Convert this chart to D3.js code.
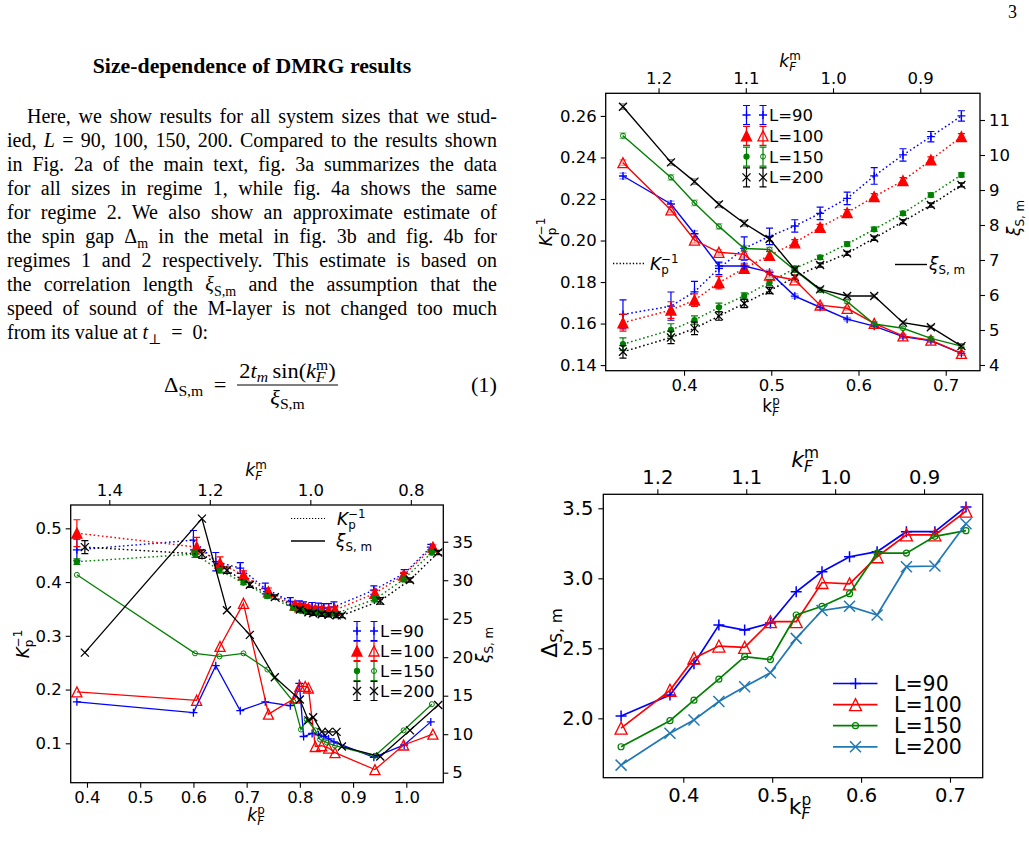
<!DOCTYPE html>
<html><head><meta charset="utf-8">
<script src="https://cdn.jsdelivr.net/npm/d3@7/dist/d3.min.js"></script>
<style>
html,body{margin:0;padding:0;background:#fff;}
svg{display:block;}
</style></head><body>
<svg id="page" width="1029" height="845" xmlns="http://www.w3.org/2000/svg"></svg>
<script>
// ================= DATA =================
const seriesNames = ["L=90", "L=100", "L=150", "L=200"];

// --- Fig 3a (top right): k_F^p values, K_p^{-1} (dotted) and xi_S,m (solid)
const kpA = [0.330,0.385,0.412,0.440,0.469,0.498,0.527,0.556,0.587,0.618,0.651,0.683,0.718];
const KA_90  = [0.1644,0.1684,0.1753,0.1866,0.1962,0.2020,0.2070,0.2131,0.2203,0.2311,0.2412,0.2500,0.2600];
const KA_100 = [0.1604,0.1665,0.1713,0.1797,0.1866,0.1928,0.1989,0.2063,0.2134,0.2211,0.2288,0.2388,0.2500];
const KA_150 = [0.1501,0.1569,0.1617,0.1678,0.1733,0.1798,0.1866,0.1919,0.1983,0.2054,0.2131,0.2219,0.2316];
const KA_200 = [0.1464,0.1533,0.1577,0.1636,0.1697,0.1759,0.1823,0.1882,0.1938,0.2011,0.2091,0.2171,0.2268];
const KA_90e  = [0.0070,0.0068,0.0050,0.0030,0.0056,0.0040,0.0030,0.0030,0.0030,0.0040,0.0030,0.0025,0.0025];
const KA_100e = [0.0040,0.0040,0.0030,0.0030,0.0020,0.0020,0.0015,0.0015,0.0015,0.0015,0.0015,0.0015,0.0015];
const KA_150e = [0.0030,0.0030,0.0020,0.0020,0.0015,0.0015,0.0010,0.0010,0.0010,0.0010,0.0010,0.0010,0.0010];
const KA_200e = [0.0030,0.0030,0.0030,0.0020,0.0020,0.0015,0.0010,0.0010,0.0010,0.0010,0.0010,0.0010,0.0010];
const XA_90  = [9.40,8.60,7.75,6.83,6.83,6.65,5.97,5.65,5.31,5.11,4.81,4.69,4.33];
const XA_100 = [9.78,8.43,7.57,7.22,7.16,6.57,6.43,5.71,5.62,5.19,4.83,4.71,4.33];
const XA_150 = [10.55,9.36,8.63,7.96,7.33,7.30,6.71,6.14,5.81,5.17,5.05,4.76,4.54];
const XA_200 = [11.38,9.79,9.24,8.59,8.05,7.60,6.73,6.16,5.97,5.97,5.21,5.08,4.54];
const XA_err = [0.08,0.08,0.08,0.08,0.08,0.06,0.06,0.06,0.05,0.05,0.05,0.05,0.05];

// --- Fig 4a (bottom left)
const kpB_90  = [0.381,0.600,0.642,0.688,0.735,0.782,0.799,0.807,0.823,0.835,0.845,0.854,0.864,0.939,0.996,1.046];
const KB_90   = [0.460,0.478,0.438,0.426,0.388,0.364,0.357,0.355,0.354,0.353,0.352,0.352,0.354,0.385,0.416,0.465];
const KB_90e  = [0.020,0.018,0.017,0.010,0.010,0.007,0.008,0.008,0.008,0.008,0.008,0.008,0.009,0.008,0.007,0.005];
const XB_90   = [14.2,12.8,18.9,13.05,14.2,13.7,16.6,9.7,10.1,9.9,9.7,9.4,9.0,7.0,8.6,11.6];
const kpB_100 = [0.381,0.606,0.650,0.694,0.741,0.791,0.800,0.810,0.816,0.829,0.841,0.854,0.866,0.941,0.995,1.050];
const KB_100  = [0.491,0.465,0.435,0.413,0.382,0.357,0.354,0.352,0.351,0.349,0.348,0.347,0.348,0.379,0.413,0.465];
const KB_100e = [0.025,0.018,0.012,0.008,0.007,0.006,0.006,0.006,0.006,0.006,0.006,0.006,0.006,0.006,0.005,0.004];
const XB_100  = [15.5,14.4,21.4,27.0,12.6,14.7,16.2,16.2,16.0,8.4,8.5,8.2,7.6,5.4,8.6,10.0];
const kpB_150 = [0.381,0.603,0.649,0.694,0.739,0.788,0.802,0.813,0.829,0.838,0.851,0.866,0.941,0.995,1.048];
const KB_150  = [0.438,0.452,0.422,0.399,0.374,0.352,0.347,0.345,0.343,0.342,0.341,0.341,0.368,0.405,0.455];
const KB_150e = [0.005,0.006,0.005,0.004,0.004,0.004,0.004,0.004,0.004,0.004,0.004,0.004,0.005,0.004,0.004];
const XB_150  = [30.7,20.5,20.1,20.5,18.4,14.2,10.6,11.9,10.5,9.3,8.9,8.5,7.2,10.5,13.9];
const kpB_200 = [0.396,0.616,0.663,0.706,0.753,0.800,0.816,0.825,0.841,0.854,0.869,0.879,0.951,1.007,1.060];
const KB_200  = [0.465,0.452,0.422,0.395,0.372,0.349,0.344,0.342,0.340,0.339,0.338,0.338,0.365,0.404,0.455];
const KB_200e = [0.012,0.008,0.006,0.005,0.004,0.004,0.004,0.004,0.004,0.004,0.004,0.004,0.006,0.004,0.004];
const XB_200  = [20.6,38.0,26.1,22.9,17.4,14.5,11.8,12.2,10.3,10.3,10.3,8.4,7.1,10.5,13.8];

// --- Fig 3b (bottom right): spin gap estimate
const kpC = [0.330,0.385,0.412,0.440,0.469,0.498,0.527,0.556,0.587,0.618,0.651,0.683,0.718];
const DC_90  = [2.016,2.166,2.390,2.666,2.630,2.680,2.904,3.047,3.154,3.190,3.333,3.333,3.510];
const DC_100 = [1.930,2.200,2.430,2.516,2.507,2.690,2.690,2.970,2.960,3.154,3.310,3.310,3.480];
const DC_150 = [1.797,1.983,2.130,2.280,2.440,2.420,2.738,2.800,2.890,3.180,3.180,3.300,3.340];
const DC_200 = [1.666,1.893,1.988,2.120,2.226,2.326,2.571,2.770,2.800,2.738,3.083,3.088,3.390];

// tick values
const ticksA_bottom = [0.4,0.5,0.6,0.7], ticksA_top = [1.2,1.1,1.0,0.9];
const ticksA_left = [0.14,0.16,0.18,0.20,0.22,0.24,0.26], ticksA_right = [4,5,6,7,8,9,10,11];
const ticksB_bottom = [0.4,0.5,0.6,0.7,0.8,0.9,1.0], ticksB_top = [1.4,1.2,1.0,0.8];
const ticksB_left = [0.1,0.2,0.3,0.4,0.5], ticksB_right = [5,10,15,20,25,30,35];
const ticksC_bottom = [0.4,0.5,0.6,0.7], ticksC_top = [1.2,1.1,1.0,0.9], ticksC_left = [2.0,2.5,3.0,3.5];

// ================= HELPERS =================
const FONT = "'DejaVu Sans', sans-serif";
const SERIF = "'Liberation Serif', 'DejaVu Serif', serif";
const svg = d3.select('#page');
svg.append('rect').attr('width',1029).attr('height',845).attr('fill','#fff');

function mathText(parent, x, y, pieces, fs, opts={}) {
  const anchor = opts.anchor||'middle', rot = opts.rotate||0, family = opts.family||FONT, sx = opts.sx||1;
  const g = parent.append('g').attr('transform', `translate(${x},${y}) rotate(${rot}) scale(${sx},1)`);
  const inner = g.append('g');
  let cx = 0, prevStart = 0;
  for (const p of pieces) {
    const lvl = p.sub ? 'sub' : p.sup ? 'sup' : null;
    const size = lvl ? fs*0.7 : fs;
    const dy = lvl==='sub' ? fs*0.22 : lvl==='sup' ? -fs*0.42 : 0;
    const sxp = p.stack ? prevStart : cx + (p.gap||0);
    const t = inner.append('text').attr('x', sxp).attr('y', dy)
      .style('font-family', family).style('font-size', size+'px')
      .style('font-style', p.i ? 'italic':'normal').style('font-weight', p.b?'bold':'normal')
      .attr('fill', '#000').text(p.t);
    const w = t.node().getComputedTextLength();
    if (!p.stack) prevStart = sxp;
    cx = Math.max(cx, sxp + w);
  }
  const shift = anchor==='middle' ? -cx/2 : anchor==='end' ? -cx : 0;
  inner.attr('transform', `translate(${shift},0)`);
  return cx*sx;
}

function marker(g, type, x, y, s, color, filled, sw) {
  sw = sw || 1.3; const h = s/2;
  if (type==='plus') {
    g.append('path').attr('d',`M${x-h},${y}H${x+h}M${x},${y-h}V${y+h}`).attr('stroke',color).attr('stroke-width',sw).attr('fill','none');
  } else if (type==='x') {
    g.append('path').attr('d',`M${x-h},${y-h}L${x+h},${y+h}M${x-h},${y+h}L${x+h},${y-h}`).attr('stroke',color).attr('stroke-width',sw).attr('fill','none');
  } else if (type==='tri') {
    g.append('path').attr('d',`M${x},${y-h}L${x+h},${y+h}L${x-h},${y+h}Z`).attr('stroke',color).attr('stroke-width',sw)
      .attr('fill', filled ? color : 'none');
  } else if (type==='circ') {
    g.append('circle').attr('cx',x).attr('cy',y).attr('r',h).attr('stroke',color).attr('stroke-width',sw)
      .attr('fill', filled ? color : 'none');
  }
}

function errBar(g, x, y0, y1, cap, color, op, sw) {
  g.append('path').attr('d',`M${x},${y0}V${y1}M${x-cap},${y0}H${x+cap}M${x-cap},${y1}H${x+cap}`)
    .attr('stroke',color).attr('stroke-width',sw||1.2).attr('fill','none').attr('opacity',op==null?1:op);
}

function series(g, xs, ys, xs_, ys_, st) {
  const pts = ys.map((v,i)=>[xs_(xs[i]), ys_(v)]);
  if (st.err) st.err.forEach((e,i)=>{ errBar(g, pts[i][0], ys_(ys[i]-e), ys_(ys[i]+e), st.cap||3.5, st.color, st.errOp, 1.2); });
  g.append('path').attr('d', d3.line()(pts)).attr('fill','none').attr('stroke',st.color)
    .attr('stroke-width',st.lw||1.4).attr('stroke-dasharray', st.dash||null);
  pts.forEach(p=>marker(g, st.mk, p[0], p[1], st.ms, st.color, st.filled, st.msw));
}

function styleAxis(a, fs) {
  a.select('.domain').remove();
  a.selectAll('text').style('font-family', FONT).style('font-size', fs+'px').attr('fill','#000');
  a.selectAll('line').attr('stroke','#000').attr('stroke-width',1.1);
}
function frame(g, x0, y0, x1, y1) {
  g.append('rect').attr('x',x0).attr('y',y0).attr('width',x1-x0).attr('height',y1-y0)
    .attr('fill','none').attr('stroke','#000').attr('stroke-width',1.3);
}

// ================= PAGE TEXT =================
const PFS = 20, PSX = 1.0;
svg.append('text').attr('x',1008).attr('y',18).style('font-family',SERIF).style('font-size','18px').attr('fill','#000').text('3');
svg.append('text').attr('transform','translate(252,73) scale(1.09,1)').attr('text-anchor','middle').style('font-family',SERIF)
  .style('font-size', PFS+'px').style('font-weight','bold').attr('fill','#000').text('Size-dependence of DMRG results');

const paraLines = [
  {x:27, just:true, segs:[["Here, we show results for all system sizes that we stud-"]]},
  {x:7, just:true, segs:[["ied, "],["L","i"],[" = 90, 100, 150, 200. Compared to the results shown"]]},
  {x:7, just:true, segs:[["in Fig. 2a of the main text, fig. 3a summarizes the data"]]},
  {x:7, just:true, segs:[["for all sizes in regime 1, while fig. 4a shows the same"]]},
  {x:7, just:true, segs:[["for regime 2. We also show an approximate estimate of"]]},
  {x:7, just:true, segs:[["the spin gap Δ"],["m","sub"],[" in the metal in fig. 3b and fig. 4b for"]]},
  {x:7, just:true, segs:[["regimes 1 and 2 respectively. This estimate is based on"]]},
  {x:7, just:true, segs:[["the correlation length "],["ξ","i"],["S,m","sub"],[" and the assumption that the"]]},
  {x:7, just:true, segs:[["speed of sound of the M-layer is not changed too much"]]},
  {x:7, just:false, segs:[["from its value at "],["t","i"],["⊥","sub"],["  =  0:"]]}
];
paraLines.forEach((ln, li) => {
  const t = svg.append('text').attr('transform', `translate(${ln.x},${123 + li*24}) scale(${PSX},1)`)
    .style('font-family',SERIF).style('font-size', PFS+'px').attr('fill','#000').attr('xml:space','preserve');
  let down = false, nSp = 0;
  ln.segs.forEach(s => {
    const ts = t.append('tspan').text(s[0]);
    if (s[1]!=='sub') nSp += (s[0].match(/ /g)||[]).length;
    if (s[1]==='i') ts.style('font-style','italic');
    if (s[1]==='sub') { ts.style('font-size', (PFS*0.7)+'px').attr('dy', PFS*0.25); down = true; }
    else if (down) { ts.attr('dy', -PFS*0.25); down = false; }
  });
  if (ln.just) {
    const w = t.node().getComputedTextLength();
    const target = (497 - ln.x)/PSX;
    const ws = (target - w)/nSp;
    if (ws >= -0.8) t.style('word-spacing', ws + 'px');
    else t.attr('textLength', target).attr('lengthAdjust','spacingAndGlyphs');
  }
});

// equation
const eq = svg.append('g');
const ESX = 1.12;
mathText(eq, 164, 392, [{t:'Δ'},{t:'S,m',sub:true}], PFS, {anchor:'start', family:SERIF, sx:ESX});
mathText(eq, 220, 392, [{t:'='}], PFS, {family:SERIF, sx:ESX});
mathText(eq, 287.5, 378, [{t:'2'},{t:'t',i:true},{t:'m',i:true,sub:true},{t:'sin(',gap:4},{t:'k',i:true},{t:'F',i:true,sub:true},{t:'m',sup:true,stack:true},{t:')'}], PFS, {family:SERIF, sx:ESX});
eq.append('line').attr('x1',237).attr('x2',338).attr('y1',385).attr('y2',385).attr('stroke','#000').attr('stroke-width',1.1);
mathText(eq, 287.5, 405, [{t:'ξ',i:true},{t:'S,m',sub:true}], PFS, {family:SERIF, sx:ESX});
mathText(eq, 497, 392, [{t:'(1)'}], PFS, {anchor:'end', family:SERIF, sx:ESX});

// ================= CHART A (fig 3a) =================
const gA = svg.append('g');
const A = {x0:605.7, x1:980, y0:93.3, y1:370.7};
const xA = d3.scaleLinear().domain([0.3102,0.7393]).range([A.x0,A.x1]);
const xAm = d3.scaleLinear().domain([Math.PI/2-0.3102, Math.PI/2-0.7393]).range([A.x0,A.x1]);
const yAK = d3.scaleLinear().domain([0.1373,0.2709]).range([A.y1,A.y0]);
const yAX = d3.scaleLinear().domain([3.837,11.763]).range([A.y1,A.y0]);
const FSA = 16.5;
const dotted = '1.6,2.6';

const stylesK = [
  {color:'blue', mk:'plus', ms:8, filled:true},
  {color:'red', mk:'tri', ms:10, filled:true},
  {color:'green', mk:'circ', ms:5, filled:true},
  {color:'black', mk:'x', ms:8, filled:true}
];
const stylesX = [
  {color:'blue', mk:'plus', ms:8, filled:false},
  {color:'red', mk:'tri', ms:10, filled:false},
  {color:'green', mk:'circ', ms:5, filled:false, msw:1},
  {color:'black', mk:'x', ms:8, filled:false}
];
const KA = [KA_90,KA_100,KA_150,KA_200], KAe = [KA_90e,KA_100e,KA_150e,KA_200e];
const XA = [XA_90,XA_100,XA_150,XA_200];
KA.forEach((ys,i)=>series(gA, kpA, ys, xA, yAK, Object.assign({}, stylesK[i], {err:KAe[i], dash:dotted, lw:1.5})));
XA.forEach((ys,i)=>series(gA, kpA, ys, xA, yAX, Object.assign({}, stylesX[i], {err:XA_err, errOp:0.45, lw:1.4})));

styleAxis(gA.append('g').attr('transform',`translate(0,${A.y1})`).call(d3.axisBottom(xA).tickValues(ticksA_bottom).tickFormat(d3.format('.1f')).tickSize(5).tickPadding(4)), FSA);
styleAxis(gA.append('g').attr('transform',`translate(0,${A.y0})`).call(d3.axisTop(xAm).tickValues(ticksA_top).tickFormat(d3.format('.1f')).tickSize(5).tickPadding(4)), FSA);
styleAxis(gA.append('g').attr('transform',`translate(${A.x0},0)`).call(d3.axisLeft(yAK).tickValues(ticksA_left).tickFormat(d3.format('.2f')).tickSize(5).tickPadding(4)), FSA);
styleAxis(gA.append('g').attr('transform',`translate(${A.x1},0)`).call(d3.axisRight(yAX).tickValues(ticksA_right).tickFormat(d3.format('d')).tickSize(5).tickPadding(4)), FSA);
frame(gA, A.x0, A.y0, A.x1, A.y1);

mathText(gA, 790, 67, [{t:'k',i:true},{t:'F',i:true,sub:true},{t:'m',sup:true,stack:true}], 17);
mathText(gA, 771, 412, [{t:'k'},{t:'F',i:true,sub:true},{t:'p',sup:true,stack:true}], 17);
mathText(gA, 552, 232, [{t:'K',i:true},{t:'p',sub:true},{t:'−1',sup:true,stack:true}], 17, {rotate:-90});
mathText(gA, 1020, 218, [{t:'ξ',i:true},{t:'S, m',sub:true}], 17, {rotate:-90});

// inline legend for line styles
gA.append('line').attr('x1',613).attr('x2',645).attr('y1',263.5).attr('y2',263.5).attr('stroke','#000').attr('stroke-width',1.3).attr('stroke-dasharray','1.3,2');
mathText(gA, 650, 270, [{t:'K',i:true},{t:'p',sub:true},{t:'−1',sup:true,stack:true}], 17, {anchor:'start'});
gA.append('line').attr('x1',895).attr('x2',927).attr('y1',264.5).attr('y2',264.5).attr('stroke','#000').attr('stroke-width',1.4);
mathText(gA, 929, 270, [{t:'ξ',i:true},{t:'S, m',sub:true}], 17, {anchor:'start'});

function legendErr(g, rows, xF, xO, xT, y0, dy, fs) {
  rows.forEach((nm,i)=>{
    const y = y0 + i*dy;
    [xF, xO].forEach((xx,k)=>{
      const st = k===0 ? stylesK[i] : stylesX[i];
      errBar(g, xx, y-9.5, y+9.5, 3.5, st.color, 1, 1.2);
      marker(g, st.mk, xx, y, st.ms, st.color, st.filled, st.msw);
    });
    g.append('text').attr('x',xT).attr('y',y+6).style('font-family',FONT).style('font-size',fs+'px').attr('fill','#000').text(nm);
  });
}
legendErr(gA, seriesNames, 746.5, 763, 769, 115, 20.8, FSA);

// ================= CHART B (fig 4a) =================
const gB = svg.append('g');
const B = {x0:70.7, x1:443.3, y0:505, y1:782.7};
const xB = d3.scaleLinear().domain([0.3694,1.0695]).range([B.x0,B.x1]);
const xBm = d3.scaleLinear().domain([1.4768,0.7354]).range([B.x0,B.x1]);
const yBK = d3.scaleLinear().domain([0.0267,0.5434]).range([B.y1,B.y0]);
const yBX = d3.scaleLinear().domain([3.70,39.77]).range([B.y1,B.y0]);
const kpB = [kpB_90,kpB_100,kpB_150,kpB_200];
const KB = [KB_90,KB_100,KB_150,KB_200], KBe = [KB_90e,KB_100e,KB_150e,KB_200e];
const XB = [XB_90,XB_100,XB_150,XB_200];
KB.forEach((ys,i)=>series(gB, kpB[i], ys, xB, yBK, Object.assign({}, stylesK[i], {err:KBe[i], dash:dotted, lw:1.4})));
XB.forEach((ys,i)=>series(gB, kpB[i], ys, xB, yBX, Object.assign({}, stylesX[i], {lw:1.3})));

styleAxis(gB.append('g').attr('transform',`translate(0,${B.y1})`).call(d3.axisBottom(xB).tickValues(ticksB_bottom).tickFormat(d3.format('.1f')).tickSize(5).tickPadding(4)), FSA);
styleAxis(gB.append('g').attr('transform',`translate(0,${B.y0})`).call(d3.axisTop(xBm).tickValues(ticksB_top).tickFormat(d3.format('.1f')).tickSize(5).tickPadding(4)), FSA);
styleAxis(gB.append('g').attr('transform',`translate(${B.x0},0)`).call(d3.axisLeft(yBK).tickValues(ticksB_left).tickFormat(d3.format('.1f')).tickSize(5).tickPadding(4)), FSA);
styleAxis(gB.append('g').attr('transform',`translate(${B.x1},0)`).call(d3.axisRight(yBX).tickValues(ticksB_right).tickFormat(d3.format('d')).tickSize(5).tickPadding(4)), FSA);
frame(gB, B.x0, B.y0, B.x1, B.y1);

mathText(gB, 256, 476, [{t:'k',i:true},{t:'F',i:true,sub:true},{t:'m',sup:true,stack:true}], 17);
mathText(gB, 256, 821, [{t:'k',i:true},{t:'F',i:true,sub:true},{t:'p',sup:true,stack:true}], 17);
mathText(gB, 29, 644, [{t:'K',i:true},{t:'p',sub:true},{t:'−1',sup:true,stack:true}], 17, {rotate:-90});
mathText(gB, 489, 645, [{t:'ξ',i:true},{t:'S, m',sub:true}], 17, {rotate:-90});

gB.append('line').attr('x1',291).attr('x2',325).attr('y1',518.5).attr('y2',518.5).attr('stroke','#000').attr('stroke-width',1.2).attr('stroke-dasharray','1.2,1.8');
mathText(gB, 337, 525, [{t:'K',i:true},{t:'p',sub:true},{t:'−1',sup:true,stack:true}], 17, {anchor:'start'});
gB.append('line').attr('x1',291).attr('x2',325).attr('y1',541).attr('y2',541).attr('stroke','#000').attr('stroke-width',1.3);
mathText(gB, 336, 547, [{t:'ξ',i:true},{t:'S, m',sub:true}], 17, {anchor:'start'});
legendErr(gB, seriesNames, 357, 374, 380, 631, 20, FSA);

// ================= CHART C (fig 3b) =================
const gC = svg.append('g');
const C = {x0:603.3, x1:982.7, y0:494.3, y1:777.7};
const xC = d3.scaleLinear().domain([0.31,0.7368]).range([C.x0,C.x1]);
const xCm = d3.scaleLinear().domain([Math.PI/2-0.31, Math.PI/2-0.7368]).range([C.x0,C.x1]);
const yC = d3.scaleLinear().domain([1.576,3.6]).range([C.y1,C.y0]);
const FSC = 19.5;
const stylesC = [
  {color:'blue', mk:'plus', ms:11, filled:false, msw:1.5, lw:1.7},
  {color:'red', mk:'tri', ms:12, filled:false, msw:1.3, lw:1.7},
  {color:'green', mk:'circ', ms:6, filled:false, msw:1.2, lw:1.7},
  {color:'#1f77b4', mk:'x', ms:11, filled:false, msw:1.5, lw:1.7}
];
const DC = [DC_90,DC_100,DC_150,DC_200];
DC.forEach((ys,i)=>series(gC, kpC, ys, xC, yC, stylesC[i]));

styleAxis(gC.append('g').attr('transform',`translate(0,${C.y1})`).call(d3.axisBottom(xC).tickValues(ticksC_bottom).tickFormat(d3.format('.1f')).tickSize(5).tickPadding(5)), FSC);
styleAxis(gC.append('g').attr('transform',`translate(0,${C.y0})`).call(d3.axisTop(xCm).tickValues(ticksC_top).tickFormat(d3.format('.1f')).tickSize(5).tickPadding(5)), FSC);
styleAxis(gC.append('g').attr('transform',`translate(${C.x0},0)`).call(d3.axisLeft(yC).tickValues(ticksC_left).tickFormat(d3.format('.1f')).tickSize(5).tickPadding(5)), FSC);
frame(gC, C.x0, C.y0, C.x1, C.y1);

mathText(gC, 805, 467, [{t:'k',i:true},{t:'F',i:true,sub:true},{t:'m',sup:true,stack:true}], 22);
mathText(gC, 800, 814, [{t:'k'},{t:'F',i:true,sub:true},{t:'p',sup:true,stack:true}], 22);
mathText(gC, 557, 633, [{t:'Δ'},{t:'S, m',sub:true}], 22, {rotate:-90});

seriesNames.forEach((nm,i)=>{
  const y = 683.5 + i*21.1, st = stylesC[i];
  gC.append('line').attr('x1',833).attr('x2',877.5).attr('y1',y).attr('y2',y).attr('stroke',st.color).attr('stroke-width',st.lw);
  marker(gC, st.mk, 855.5, y, st.ms, st.color, false, st.msw);
  gC.append('text').attr('x',894).attr('y',y+7.5).style('font-family',FONT).style('font-size','20.5px').attr('fill','#000').text(nm);
});
</script></body></html>
